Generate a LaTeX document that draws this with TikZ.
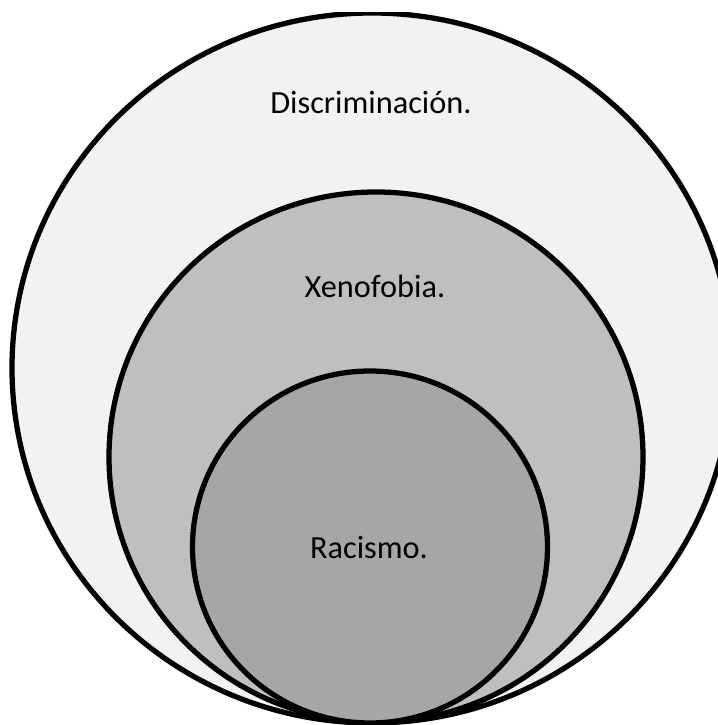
\documentclass[tikz,border=0pt]{standalone}
\usepackage{fontspec}
\setmainfont{Carlito}
\usetikzlibrary{positioning}

\definecolor{outerfill}{HTML}{F2F2F2}
\definecolor{middlefill}{HTML}{BFBFBF}
\definecolor{innerfill}{HTML}{A6A6A6}

\tikzset{
  ring/.style={draw=black, line width=3pt},
  ringtext/.style={font=\fontsize{18.4}{22}\selectfont, inner sep=0pt}
}

\begin{document}
\begin{tikzpicture}[x=0.02cm, y=0.02cm]
\useasboundingbox (0,0) rectangle (718,725);
\begin{scope}
\clip (0,0) rectangle (718,712);
\draw [ring, fill=outerfill] (372,357) ellipse [x radius=360, y radius=355];
\draw [ring, fill=middlefill] (376,268) ellipse [x radius=267, y radius=265];
\draw [ring, fill=innerfill] (370,178) ellipse [x radius=177.5, y radius=176];
\end{scope}
\node (disc) [ringtext] at (371,622) {Discriminación.};
\node (xeno) [ringtext] at (375,439) {Xenofobia.};
\node (raci) [ringtext] at (369,177) {Racismo.};
\end{tikzpicture}
\end{document}
